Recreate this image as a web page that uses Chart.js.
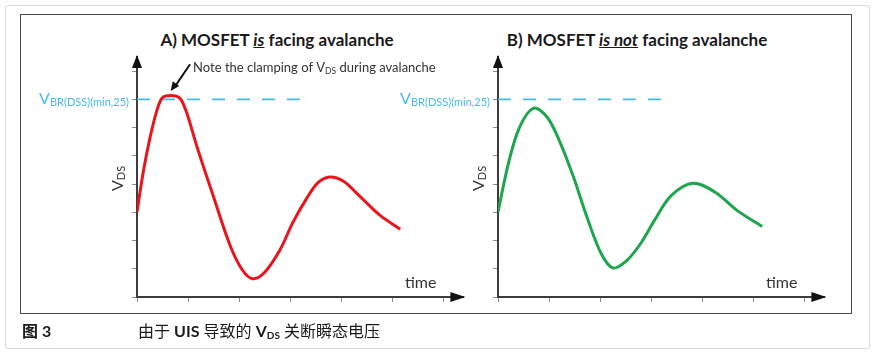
<!DOCTYPE html>
<html>
<head>
<meta charset="utf-8">
<script src="https://cdn.jsdelivr.net/npm/chart.js@4.4.1/dist/chart.umd.min.js"></script>
<style>
  html, body { margin: 0; padding: 0; background: #fff; }
  #page { position: relative; width: 875px; height: 354px; overflow: hidden; font-family: Lato, "Noto Sans CJK SC", sans-serif; color: #1a1a1a; }
  #outer { position: absolute; left: 5px; top: 5px; width: 863px; height: 342px; border: 1px solid #dadada; border-radius: 3px; }
  #frame { position: absolute; left: 20px; top: 14px; width: 830px; height: 298px; border: 1.5px solid #4a4a4a; }
  .title { position: absolute; top: 29px; font-weight: bold; font-size: 17px; white-space: nowrap; transform: translateX(-50%); }
  .title u { font-style: italic; }
  .wrap { position: absolute; top: 0; }
  .caption { position: absolute; top: 318px; font-size: 16px; white-space: nowrap; }
  .caption b sub { font-size: 10px; vertical-align: -2px; }
</style>
</head>
<body>
<div id="page">
  <div id="outer"></div>
  <div id="frame"></div>
  <div class="title" style="left:277px">A) MOSFET <u>is</u> facing avalanche</div>
  <div class="title" style="left:637px">B) MOSFET <u>is not</u> facing avalanche</div>
  <div class="wrap" style="left:0px"><canvas id="chartA" width="470" height="320"></canvas></div>
  <div class="wrap" style="left:361px"><canvas id="chartB" width="475" height="320"></canvas></div>
  <div class="caption" style="left:22px"><b>图 3</b></div>
  <div class="caption" style="left:138px">由于 <b>UIS</b> 导致的 <b>V<sub>DS</sub></b> 关断瞬态电压</div>
</div>
<script>
// panel A: V_DS is clamped at the breakdown level
const timeA = [0, 0.12, 0.25, 0.38, 0.48, 0.56, 0.76, 0.86, 0.98, 1.18, 1.5, 1.82, 2.05, 2.26,
               2.5, 2.8, 3.06, 3.33, 3.55, 3.78, 4.05, 4.31, 4.55, 4.76, 5.16];
const vdsA  = [3.0, 4.4, 5.6, 6.55, 7.02, 7.12, 7.12, 7.0, 6.5, 5.3, 3.55, 1.85, 1.0, 0.65,
               0.87, 1.66, 2.65, 3.5, 4.05, 4.25, 4.1, 3.67, 3.25, 2.9, 2.4];

// panel B: peak stays below the breakdown level
const timeB = [0, 0.2, 0.42, 0.69, 0.95, 1.2, 1.47, 1.75, 2.02, 2.25,
               2.5, 2.78, 3.08, 3.4, 3.82, 4.25, 4.7, 5.18];
const vdsB  = [3.0, 4.7, 6.0, 6.68, 6.4, 5.55, 4.3, 2.8, 1.55, 1.03,
               1.25, 1.85, 2.75, 3.6, 4.03, 3.72, 3.05, 2.5];

// V_BR(DSS)(min,25) reference level and extent of its dashed line
const vbrLevel = 7;
const vbrSpanA = [0, 3.35];
const vbrSpanB = [0, 3.33];

const xMax = 6.4;
const yMax = 8.5;

const BLUE = "#45bde9";
const FONT = "Lato, 'Open Sans', sans-serif";

// draw "main" followed by a lowered subscript; returns the x where it ends
function drawSub(ctx, main, sub, x, y, size, subSize, color, align) {
  ctx.font = size + "px " + FONT;
  const w1 = ctx.measureText(main).width;
  ctx.font = subSize + "px " + FONT;
  const w2 = ctx.measureText(sub).width;
  let sx = x;
  if (align === "right") sx = x - w1 - w2;
  if (align === "center") sx = x - (w1 + w2) / 2;
  ctx.fillStyle = color;
  ctx.textBaseline = "alphabetic";
  ctx.textAlign = "left";
  ctx.font = size + "px " + FONT;
  ctx.fillText(main, sx, y);
  ctx.font = subSize + "px " + FONT;
  ctx.fillText(sub, sx + w1, y + 2);
  return sx + w1 + w2;
}

const decor = {
  id: "decor",
  afterDraw(chart, args, o) {
    const { ctx, chartArea: a, scales: { x, y } } = chart;
    ctx.save();

    // axis arrowheads
    ctx.fillStyle = "#111";
    ctx.beginPath();
    ctx.moveTo(a.left, a.top - 2);
    ctx.lineTo(a.left - 5, a.top + 11);
    ctx.lineTo(a.left + 5, a.top + 11);
    ctx.closePath();
    ctx.fill();
    ctx.beginPath();
    ctx.moveTo(a.right + 2, a.bottom);
    ctx.lineTo(a.right - 13, a.bottom - 5);
    ctx.lineTo(a.right - 13, a.bottom + 5);
    ctx.closePath();
    ctx.fill();

    // breakdown level label
    const yb = y.getPixelForValue(vbrLevel);
    drawSub(ctx, "V", "BR(DSS)(min,25)", a.left - 8, yb + 5, 16, 11, BLUE, "right");

    // y axis title
    ctx.save();
    ctx.translate(a.left - 14, (a.top + a.bottom) / 2 + 14);
    ctx.rotate(-Math.PI / 2);
    drawSub(ctx, "V", "DS", 0, 0, 16, 11, "#333", "left");
    ctx.restore();

    // x axis title
    ctx.font = "16px " + FONT;
    ctx.fillStyle = "#333";
    ctx.textAlign = "right";
    ctx.textBaseline = "middle";
    ctx.fillText("time", a.right - 27, a.bottom - 14);

    // clamping note (panel A only)
    if (o.note) {
      const tx = x.getPixelForValue(1.1), ty = y.getPixelForValue(8.1);
      const hx = x.getPixelForValue(0.66), hy = y.getPixelForValue(7.3);
      ctx.strokeStyle = "#111";
      ctx.lineWidth = 2;
      ctx.beginPath();
      ctx.moveTo(tx - 3, ty - 4);
      ctx.lineTo(hx + 4, hy - 4);
      ctx.stroke();
      const ang = Math.atan2(hy - (ty - 4), hx - (tx - 3));
      ctx.beginPath();
      ctx.moveTo(hx, hy);
      ctx.lineTo(hx - 9 * Math.cos(ang) + 4 * Math.sin(ang), hy - 9 * Math.sin(ang) - 4 * Math.cos(ang));
      ctx.lineTo(hx - 9 * Math.cos(ang) - 4 * Math.sin(ang), hy - 9 * Math.sin(ang) + 4 * Math.cos(ang));
      ctx.closePath();
      ctx.fillStyle = "#111";
      ctx.fill();
      const end = drawSub(ctx, "Note the clamping of V", "DS", tx, ty + 4, 13, 8.5, "#333", "left");
      ctx.font = "13px " + FONT;
      ctx.fillText(" during avalanche", end, ty + 4);
    }
    ctx.restore();
  }
};

function makeChart(id, times, values, color, span, padLeft, padRight, note) {
  const curve = times.map((t, i) => ({ x: t, y: values[i] }));
  const level = span.map(t => ({ x: t, y: vbrLevel }));
  const axis = (max) => ({
    type: "linear",
    min: 0,
    max: max,
    ticks: { display: false, stepSize: 1, includeBounds: false },
    grid: { drawOnChartArea: false, drawTicks: true, tickLength: 5, color: "#8c8c8c", lineWidth: 1 },
    border: { display: true, color: "#3c3c3c", width: 2 }
  });
  return new Chart(document.getElementById(id), {
    type: "line",
    data: {
      datasets: [
        { data: curve, borderColor: color, borderWidth: 3, pointRadius: 0, tension: 0.35, fill: false },
        { data: level, borderColor: BLUE, borderWidth: 1.8, borderDash: [13, 12], pointRadius: 0, tension: 0, fill: false }
      ]
    },
    options: {
      responsive: false,
      animation: false,
      events: [],
      layout: { autoPadding: false, padding: { left: padLeft, top: 57, right: padRight, bottom: 18 } },
      scales: { x: axis(xMax), y: axis(yMax) },
      plugins: { legend: { display: false }, tooltip: { enabled: false }, decor: { note: note } }
    },
    plugins: [decor]
  });
}

makeChart("chartA", timeA, vdsA, "#e8161c", vbrSpanA, 132, 6.6, true);
makeChart("chartB", timeB, vdsB, "#1ea64e", vbrSpanB, 132, 11.6, false);
</script>
</body>
</html>
